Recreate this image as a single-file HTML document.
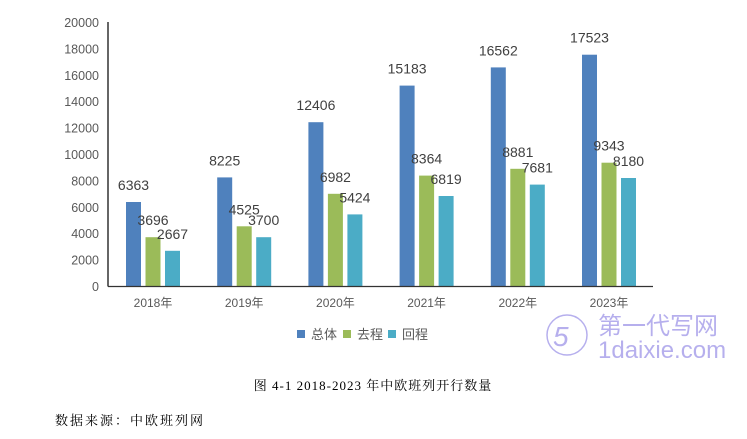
<!DOCTYPE html>
<html><head><meta charset="utf-8"><style>
body{margin:0;background:#fff;width:747px;height:434px;overflow:hidden}
</style></head><body>
<svg width="747" height="434" xmlns="http://www.w3.org/2000/svg" font-family="Liberation Sans, 'Noto Sans CJK SC', sans-serif">
<g font-size="12.5" fill="#595959" text-anchor="end">
<text x="99" y="27">20000</text><text x="99" y="53.4">18000</text><text x="99" y="79.8">16000</text><text x="99" y="106.2">14000</text><text x="99" y="132.6">12000</text><text x="99" y="159">10000</text><text x="99" y="185.4">8000</text><text x="99" y="211.8">6000</text><text x="99" y="238.2">4000</text><text x="99" y="264.6">2000</text><text x="99" y="291">0</text>
</g>
<line x1="108" y1="22" x2="108" y2="286.5" stroke="#000" stroke-width="1.2"/>
<g>
<rect x="126" y="202" width="15" height="84" fill="#4f81bd"/>
<rect x="145.5" y="237.2" width="15" height="48.8" fill="#9bbb59"/>
<rect x="165" y="250.8" width="15" height="35.2" fill="#4bacc6"/>
<rect x="217.2" y="177.4" width="15" height="108.6" fill="#4f81bd"/>
<rect x="236.7" y="226.3" width="15" height="59.7" fill="#9bbb59"/>
<rect x="256.2" y="237.2" width="15" height="48.8" fill="#4bacc6"/>
<rect x="308.4" y="122.2" width="15" height="163.8" fill="#4f81bd"/>
<rect x="327.9" y="193.8" width="15" height="92.2" fill="#9bbb59"/>
<rect x="347.4" y="214.4" width="15" height="71.6" fill="#4bacc6"/>
<rect x="399.6" y="85.6" width="15" height="200.4" fill="#4f81bd"/>
<rect x="419.1" y="175.6" width="15" height="110.4" fill="#9bbb59"/>
<rect x="438.6" y="196" width="15" height="90" fill="#4bacc6"/>
<rect x="490.8" y="67.4" width="15" height="218.6" fill="#4f81bd"/>
<rect x="510.3" y="168.8" width="15" height="117.2" fill="#9bbb59"/>
<rect x="529.8" y="184.6" width="15" height="101.4" fill="#4bacc6"/>
<rect x="582" y="54.7" width="15" height="231.3" fill="#4f81bd"/>
<rect x="601.5" y="162.7" width="15" height="123.3" fill="#9bbb59"/>
<rect x="621" y="178" width="15" height="108" fill="#4bacc6"/>
</g>
<g font-size="14" fill="#404040" text-anchor="middle">
<text x="133.5" y="190">6363</text><text x="153" y="225.2">3696</text><text x="172.5" y="238.8">2667</text>
<text x="224.7" y="165.4">8225</text><text x="244.2" y="214.3">4525</text><text x="263.7" y="225.2">3700</text>
<text x="315.9" y="110.2">12406</text><text x="335.4" y="181.8">6982</text><text x="354.9" y="202.4">5424</text>
<text x="407.1" y="73.6">15183</text><text x="426.6" y="163.6">8364</text><text x="446.1" y="184">6819</text>
<text x="498.3" y="55.4">16562</text><text x="517.8" y="156.8">8881</text><text x="537.3" y="172.6">7681</text>
<text x="589.5" y="42.7">17523</text><text x="609" y="150.7">9343</text><text x="628.5" y="166">8180</text>
</g>
<line x1="108" y1="286.5" x2="653" y2="286.5" stroke="#333" stroke-width="1.2"/>
<g font-size="12" fill="#595959" text-anchor="middle">
<text x="153" y="307">2018年</text><text x="244.2" y="307">2019年</text><text x="335.4" y="307">2020年</text><text x="426.6" y="307">2021年</text><text x="517.8" y="307">2022年</text><text x="609" y="307">2023年</text>
</g>
<g font-size="13" fill="#595959">
<rect x="297" y="330" width="8" height="8" fill="#4f81bd"/><text x="311" y="339">总体</text>
<rect x="343" y="330" width="8" height="8" fill="#9bbb59"/><text x="357" y="339">去程</text>
<rect x="388" y="330" width="8" height="8" fill="#4bacc6"/><text x="402" y="339">回程</text>
</g>
<g fill="#7b6fe0" opacity="0.55">
<text x="598" y="334" font-size="24">第一代写网</text>
<text x="598" y="358" font-size="24">1daixie.com</text>
<circle cx="567" cy="335" r="20" fill="none" stroke="#7b6fe0" stroke-width="1.5"/>
<text x="553" y="346" font-size="28" font-style="italic">5</text>
</g>
<text x="373" y="390" font-size="13" fill="#000" text-anchor="middle" font-family="Liberation Serif, 'Noto Serif CJK SC', serif" letter-spacing="1">图 4-1 2018-2023 年中欧班列开行数量</text>
<text x="55" y="425" font-size="13" fill="#000" font-family="Liberation Serif, 'Noto Serif CJK SC', serif" letter-spacing="2">数据来源：中欧班列网</text>
</svg>
</body></html>
